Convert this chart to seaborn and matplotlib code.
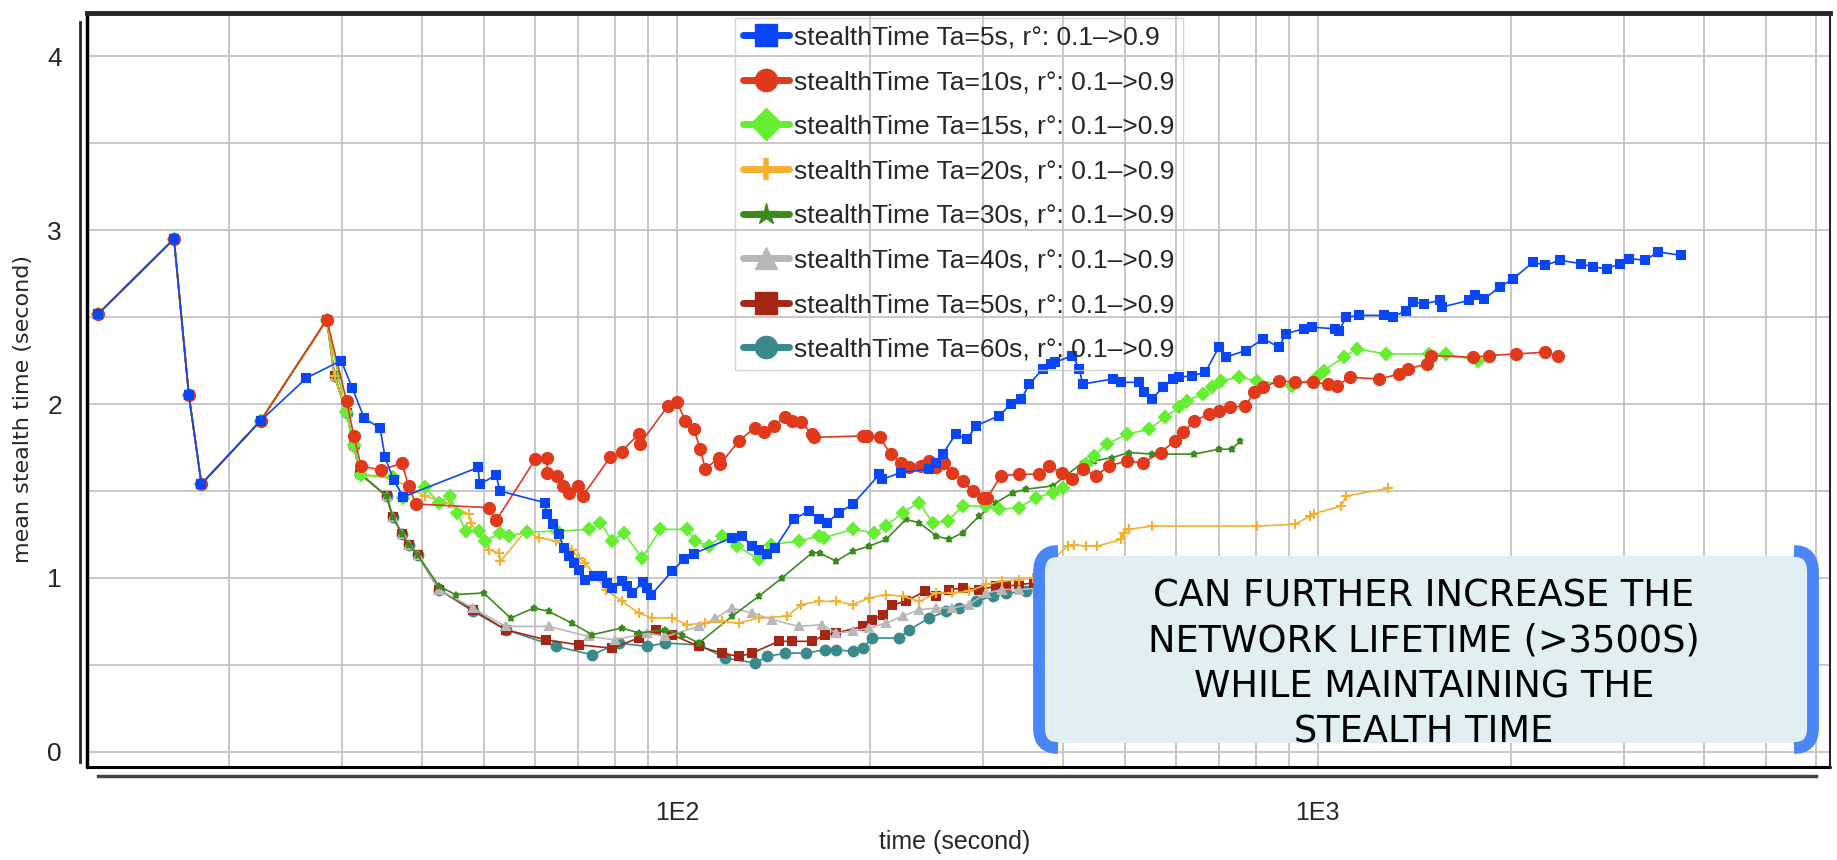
import numpy as np
import seaborn as sns
import matplotlib.pyplot as plt
from matplotlib.lines import Line2D
from matplotlib.patches import FancyBboxPatch, PathPatch
from matplotlib.path import Path
from matplotlib.transforms import IdentityTransform
from matplotlib.ticker import LogLocator, NullFormatter

sns.set_style('white')
plt.rcParams['font.family'] = ['Liberation Sans Narrow', 'Liberation Sans', 'DejaVu Sans']

# (time s, mean stealth time s)
start = [(12.5, 2.52), (16.4, 2.95), (17.3, 2.05), (18.1, 1.54), (22.4, 1.905)]
peak = [(28.4, 2.486), (29.2, 2.16), (30.5, 1.95), (31.3, 1.76), (32.0, 1.60)]

ta5 = start + [(26.4, 2.15), (29.9, 2.25), (31.1, 2.095), (32.5, 1.918), (34.4, 1.861), (35.0, 1.697),
    (36.1, 1.563), (37.4, 1.467), (48.9, 1.635), (49.2, 1.538), (52.2, 1.592), (52.9, 1.50), (62.1, 1.433),
    (62.6, 1.365), (64.1, 1.308), (65.4, 1.25), (66.6, 1.173), (67.8, 1.125), (69.0, 1.087), (70.2, 1.048),
    (71.9, 0.99), (74.1, 1.013), (76.4, 1.01), (77.7, 0.971), (79.2, 0.942), (81.9, 0.981), (83.6, 0.952),
    (85.1, 0.913), (88.4, 0.975), (89.8, 0.942), (91.2, 0.904), (98.2, 1.038), (102.4, 1.106), (106.2, 1.14),
    (121.8, 1.231), (126.3, 1.24), (130.9, 1.183), (134.1, 1.163), (138.1, 1.135), (142.3, 1.173),
    (152.1, 1.337), (160.5, 1.385), (166.3, 1.337), (171.4, 1.317), (178.7, 1.375), (188, 1.423),
    (206.9, 1.596), (209, 1.567), (223.6, 1.606), (247.5, 1.625), (254, 1.663), (259.7, 1.712),
    (272.2, 1.827), (283.7, 1.798), (292.6, 1.875), (318.3, 1.933), (332, 2.0), (344.4, 2.029),
    (354.8, 2.115), (372, 2.202), (383, 2.231), (389, 2.24), (414, 2.279), (424.3, 2.202), (429.5, 2.115),
    (478.2, 2.144), (492.8, 2.125), (526, 2.125), (535.5, 2.067), (551.6, 2.029), (572.4, 2.096),
    (593.4, 2.144), (606.7, 2.154), (636.3, 2.163), (667.6, 2.183), (700.5, 2.327), (717.8, 2.269),
    (771.4, 2.308), (822.2, 2.375), (869.5, 2.327), (891.2, 2.404), (950, 2.433), (980.8, 2.442),
    (1063, 2.433), (1080, 2.423), (1106.5, 2.5), (1161, 2.51), (1268, 2.51), (1309, 2.5), (1374, 2.538),
    (1407, 2.587), (1465, 2.577), (1549, 2.596), (1562, 2.558), (1720, 2.596), (1762, 2.625), (1819, 2.606),
    (1923, 2.673), (2018, 2.721), (2169, 2.817), (2259, 2.798), (2389, 2.827), (2570, 2.808), (2692, 2.788),
    (2825, 2.779), (2966, 2.808), (3063, 2.837), (3239, 2.827), (3398, 2.875), (3682, 2.856)]

ta10 = start + [(28.4, 2.486), (30.5, 2.015), (31.3, 1.818), (32.1, 1.645), (34.45, 1.62), (37.2, 1.659),
    (38.1, 1.53), (39.1, 1.425), (50.8, 1.404), (52.2, 1.331), (60.1, 1.683), (62.6, 1.688), (62.7, 1.606),
    (65.0, 1.587), (66.3, 1.529), (67.8, 1.49), (70.1, 1.529), (71.2, 1.471), (78.7, 1.696), (81.9, 1.727),
    (87.1, 1.827), (87.5, 1.77), (96.8, 1.99), (100, 2.01), (103, 1.904), (106.2, 1.856), (108.7, 1.74),
    (110.7, 1.625), (116.1, 1.692), (116.8, 1.654), (124.8, 1.788), (132.4, 1.865), (136.6, 1.837),
    (141.5, 1.875), (147.6, 1.923), (151, 1.904), (156.3, 1.894), (162.4, 1.827), (163.3, 1.808),
    (194.9, 1.817), (198, 1.817), (207, 1.808), (215.7, 1.712), (223.6, 1.663), (230.3, 1.635),
    (240.2, 1.644), (247.5, 1.673), (254, 1.635), (261.2, 1.663), (269, 1.606), (279, 1.558), (289.2, 1.5),
    (299.8, 1.462), (305, 1.462), (320.2, 1.587), (342, 1.596), (367.4, 1.596), (380, 1.644), (398.5, 1.606),
    (414, 1.567), (429.5, 1.625), (450.4, 1.587), (472, 1.644), (504, 1.673), (533, 1.663), (569, 1.721),
    (597.6, 1.788), (616.6, 1.837), (641.6, 1.904), (677, 1.942), (700, 1.962), (728, 1.981), (771, 1.99),
    (796, 2.067), (822, 2.096), (869.5, 2.135), (920, 2.125), (981, 2.125), (1038, 2.115), (1071, 2.106),
    (1124, 2.154), (1248, 2.144), (1341, 2.173), (1384, 2.202), (1479, 2.231), (1501, 2.279), (1748, 2.269),
    (1849, 2.279), (2035, 2.288), (2259, 2.298), (2370, 2.279)]

ta15 = start + [(28.4, 2.486), (30.4, 1.957), (31.3, 1.765), (32.1, 1.59), (36.0, 1.58), (37.4, 1.46),
    (40.4, 1.52), (42.5, 1.433), (44.2, 1.47), (45.4, 1.375), (46.8, 1.269), (49.0, 1.269), (50.2, 1.212),
    (53.0, 1.26), (54.6, 1.24), (58.3, 1.263), (65.0, 1.269), (72.8, 1.279), (75.9, 1.317), (79.2, 1.212),
    (82.5, 1.26), (88.2, 1.115), (94.2, 1.279), (103.7, 1.279), (106.8, 1.212), (112.0, 1.183), (117.5, 1.24),
    (124.2, 1.183), (134.1, 1.106), (139.9, 1.192), (154.9, 1.212), (166.3, 1.24), (169.6, 1.231),
    (188, 1.279), (203, 1.26), (211.9, 1.298), (224.9, 1.375), (238.8, 1.433), (250.6, 1.317),
    (264.4, 1.327), (279, 1.413), (303.4, 1.413), (318.3, 1.394), (342, 1.404), (363, 1.462), (385.5, 1.49),
    (399.6, 1.519), (434.5, 1.654), (447, 1.702), (468, 1.769), (504, 1.827), (546, 1.856), (578, 1.923),
    (606.7, 1.981), (626, 2.019), (662, 2.058), (684, 2.096), (706.5, 2.135), (753.6, 2.154), (803.6, 2.135),
    (912.5, 2.106), (996.8, 2.154), (1021, 2.192), (1097, 2.269), (1151, 2.317), (1278, 2.288),
    (1489, 2.288), (1586, 2.288), (1775, 2.25)]

ta20 = start + peak + [(36.0, 1.57), (40.4, 1.47), (44.0, 1.43), (47.3, 1.365), (47.6, 1.317),
    (50.8, 1.163), (52.7, 1.144), (53.0, 1.096), (58.0, 1.269), (60.9, 1.231), (64.7, 1.212), (68.5, 1.163),
    (70.2, 1.115), (71.9, 1.087), (74.6, 1.01), (77.4, 0.933), (82.0, 0.865), (87.1, 0.798), (91.4, 0.769),
    (98.2, 0.769), (103.7, 0.731), (110.7, 0.74), (117.5, 0.75), (124.8, 0.74), (134.1, 0.769),
    (148.5, 0.779), (156.3, 0.846), (166.3, 0.865), (177, 0.865), (188, 0.846), (199.6, 0.885),
    (211.9, 0.904), (224.9, 0.894), (238.8, 0.865), (254, 0.913), (269, 0.913), (285.8, 0.923),
    (303.4, 0.962), (322, 0.981), (342, 0.99), (359, 1.0), (406.8, 1.183), (416, 1.192), (434.5, 1.183),
    (452.9, 1.183), (492.8, 1.221), (498, 1.26), (507.5, 1.279), (551, 1.298), (803.6, 1.298), (920, 1.308),
    (973, 1.356), (988, 1.37), (1088, 1.413), (1107, 1.471), (1289, 1.515)]

drop = [(35.2, 1.47), (36.0, 1.35), (37.2, 1.255), (38.2, 1.19), (39.4, 1.13)]

ta30 = start + peak + drop + [(42.5, 0.952), (45.1, 0.904), (49.9, 0.913), (55.0, 0.769), (59.8, 0.827),
    (63.0, 0.808), (68.5, 0.74), (73.7, 0.673), (82.0, 0.712), (87.1, 0.683), (95.9, 0.702), (101.8, 0.673),
    (108.1, 0.625), (121.8, 0.779), (134.1, 0.894), (145.8, 1.0), (162.4, 1.144), (166.9, 1.144),
    (177, 1.096), (188, 1.154), (199.6, 1.183), (211.9, 1.221), (227.6, 1.337), (238.8, 1.317), (254, 1.24),
    (266, 1.221), (279, 1.26), (296.2, 1.356), (314.5, 1.433), (334, 1.49), (350.3, 1.51), (385.5, 1.529),
    (429.5, 1.663), (447, 1.673), (478, 1.692), (507.5, 1.721), (551, 1.712), (641.6, 1.712), (700, 1.74),
    (734, 1.74), (756.5, 1.788)]

ta40 = start + peak + drop + [(42.5, 0.933), (48.0, 0.827), (54.0, 0.721), (63, 0.721), (72.8, 0.663),
    (80, 0.644), (89.6, 0.683), (95.9, 0.663), (108.1, 0.721), (114.8, 0.769), (121.8, 0.827), (130.9, 0.798),
    (140.8, 0.76), (154.9, 0.721), (168.5, 0.731), (177, 0.683), (188, 0.692), (199.6, 0.712), (211.9, 0.74),
    (224.9, 0.779), (238.8, 0.817), (254, 0.827), (269, 0.827), (285.8, 0.846), (303.4, 0.913), (322, 0.933),
    (342, 0.933), (365, 0.94)]

ta50 = start + peak + drop + [(42.5, 0.933), (48, 0.817), (54, 0.702), (62.4, 0.644), (70.2, 0.615),
    (79.2, 0.596), (87.1, 0.654), (92.6, 0.702), (98.2, 0.673), (108.1, 0.606), (117.5, 0.567), (124.8, 0.548),
    (130.9, 0.567), (144, 0.635), (151, 0.635), (162.4, 0.635), (170.3, 0.673), (177, 0.683), (194.9, 0.721),
    (201.5, 0.76), (209.3, 0.788), (216.8, 0.846), (227.6, 0.865), (243.3, 0.923), (254, 0.894), (266, 0.933),
    (279, 0.942), (296.2, 0.933), (314.5, 0.952), (326.5, 0.952), (342, 0.962), (360, 0.97)]

ta60 = start + peak + drop + [(42.5, 0.933), (48, 0.808), (54, 0.702), (64.7, 0.606), (73.7, 0.558),
    (81.1, 0.625), (89.6, 0.606), (95.9, 0.625), (108.1, 0.615), (119, 0.538), (132.5, 0.51), (138.1, 0.548),
    (147.6, 0.567), (158.7, 0.567), (170.3, 0.587), (177, 0.587), (188, 0.577), (194.9, 0.596), (201.5, 0.654),
    (222.3, 0.654), (230.3, 0.702), (247.5, 0.769), (262.8, 0.808), (275.6, 0.827), (292.6, 0.865),
    (310.8, 0.894), (326.5, 0.913), (350.3, 0.923), (370, 0.93)]

ta_labels = ['5s', '10s', '15s', '20s', '30s', '40s', '50s', '60s']
series_data = [ta5, ta10, ta15, ta20, ta30, ta40, ta50, ta60]
colors = ['#0a46f5', '#e0391c', '#66ee33', '#f6b031', '#3b8a1c', '#b8b8b8', '#a52614', '#3a8a8c']
markers = ['s', 'o', 'D', '+', '*', '^', 's', 'o']
msizes = [5.5, 8, 6.5, 7, 5, 6, 6, 7]

fig, ax = plt.subplots(figsize=(18.37, 8.6), dpi=100)
fig.subplots_adjust(left=0.0474, right=0.9962, bottom=0.1077, top=0.985)

# draw last series first so blue ends on top
for i in reversed(range(8)):
    t, v = zip(*series_data[i])
    sns.lineplot(x=list(t), y=list(v), ax=ax, color=colors[i], marker=markers[i],
                 markersize=msizes[i], markeredgecolor=colors[i], markeredgewidth=1.5,
                 linewidth=1.2, estimator=None, sort=False, legend=False)

ax.set_xscale('log')
ax.set_xticks([100, 1000])
ax.set_xticklabels(['1E2', '1E3'])
ax.xaxis.set_minor_locator(LogLocator(base=10, subs=np.arange(2, 10)))
ax.xaxis.set_minor_formatter(NullFormatter())
ax.set_yticks([0, 1, 2, 3, 4])
ax.set_yticks(np.arange(0, 4.01, 0.5), minor=True)
ax.grid(True, which='both', color='#c4c4c4', linewidth=1.3)

# offset axis lines plus a closed frame
ax.spines['bottom'].set_position(('outward', 6))
ax.spines['left'].set_position(('outward', 5))
ax.spines['bottom'].set_bounds(12.5, 6000)
ax.spines['left'].set_bounds(-0.06, 4.2)
ax.spines['bottom'].set_color('#444444')
ax.spines['bottom'].set_linewidth(2.5)
ax.spines['left'].set_linewidth(2)
ax.spines['top'].set_linewidth(3.5)
ax.spines['right'].set_linewidth(1.5)
for s in ax.spines.values():
    s.set_visible(True)
ax.plot([0, 0], [0, 1], transform=ax.transAxes, color='black', lw=2.5, clip_on=False)
ax.plot([0, 1], [0, 0], transform=ax.transAxes, color='black', lw=2.2, clip_on=False)
ax.set_xlim(12, 6300)
ax.set_ylim(-0.09, 4.25)

ax.tick_params(axis='x', which='major', direction='out', length=11, width=1.5, labelsize=18, pad=7)
ax.tick_params(axis='x', which='minor', direction='out', length=9, width=1.5)
ax.tick_params(axis='y', which='both', direction='out', length=10, width=1.5, labelsize=19, pad=3)

ax.set_xlabel('time (second)', fontsize=18)
ax.xaxis.set_label_coords(0.498, -0.083)
ax.set_ylabel('mean stealth time (second)', fontsize=16, family='DejaVu Sans')
ax.yaxis.set_label_coords(-0.031, 0.475)

handles = [Line2D([], [], color=colors[i], lw=5, marker=markers[i], markersize=16,
                  markeredgewidth=4 if markers[i] == '+' else 1, markeredgecolor=colors[i])
           for i in range(8)]
labels = [f'stealthTime Ta={ta}, r°: 0.1–>0.9' for ta in ta_labels]
ax.legend(handles, labels, loc='upper left', bbox_to_anchor=(0.400, 0.9795),
          bbox_transform=fig.transFigure, frameon=True, fancybox=False, facecolor='none',
          edgecolor='#c8c8c8', fontsize=19, handlelength=1.75, handletextpad=0.2,
          labelspacing=0.78, borderpad=0.3, borderaxespad=0)

# callout box with blue brackets (pixel coordinates)
H = 860
box = FancyBboxPatch((1045, H - 743), 762, 187, boxstyle='round,pad=0,rounding_size=14',
                     facecolor='#e1eff3', edgecolor='none', transform=IdentityTransform(), zorder=5)
fig.add_artist(box)
for xo, xi in [(1039, 1058), (1813, 1794)]:
    verts = [(xi, H - 551), (xo, H - 551), (xo, H - 572), (xo, H - 728), (xo, H - 748), (xi, H - 748)]
    codes = [Path.MOVETO, Path.CURVE3, Path.CURVE3, Path.LINETO, Path.CURVE3, Path.CURVE3]
    fig.add_artist(PathPatch(Path(verts, codes), fill=False, edgecolor='#4a86f7', lw=8.5,
                             capstyle='butt', transform=IdentityTransform(), zorder=6))
fig.text(1424 / 1837, 1 - 664 / H,
         'CAN FURTHER INCREASE THE\nNETWORK LIFETIME (>3500S)\nWHILE MAINTAINING THE\nSTEALTH TIME',
         ha='center', va='center', fontsize=26.5, family='DejaVu Sans',
         linespacing=1.28, color='black', zorder=7)

fig.savefig('out.png', dpi=100)
